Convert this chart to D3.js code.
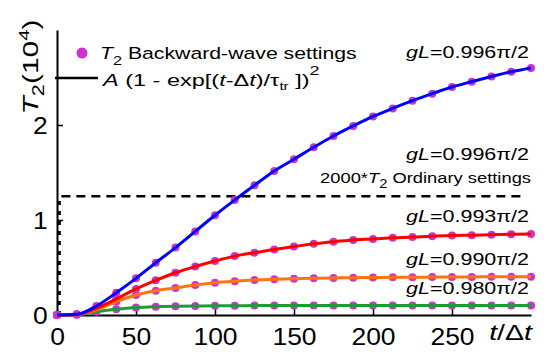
<!DOCTYPE html>
<html>
<head>
<meta charset="utf-8">
<script src="https://cdn.jsdelivr.net/npm/d3@7"></script>
<style>
  body { margin: 0; background: #fff; }
  text { font-family: "Liberation Sans", Arial, sans-serif; fill: #000; }
</style>
</head>
<body>
<svg id="chart"></svg>
<script>
var width = 550;
var height = 361;

// time steps t/Δt
var tSteps = d3.range(0, 301, 12.5);

// T2 (10^4) for each gL setting
var blue996 = [0, 0.007, 0.095, 0.235, 0.386, 0.55, 0.71, 0.88, 1.05, 1.21, 1.365, 1.516, 1.64,
  1.765, 1.884, 1.99, 2.09, 2.175, 2.256, 2.33, 2.40, 2.456, 2.51, 2.56, 2.60];
var red993 = [0, 0.006, 0.07, 0.168, 0.275, 0.365, 0.445, 0.51, 0.568, 0.62, 0.656, 0.69, 0.72,
  0.75, 0.772, 0.79, 0.80, 0.812, 0.82, 0.83, 0.836, 0.84, 0.845, 0.85, 0.853];
var orange990 = [0, 0.005, 0.055, 0.14, 0.21, 0.255, 0.285, 0.315, 0.34, 0.356, 0.368, 0.376, 0.382,
  0.387, 0.39, 0.393, 0.395, 0.397, 0.398, 0.399, 0.40, 0.401, 0.402, 0.402, 0.403];
var green980 = [0, 0.004, 0.035, 0.06, 0.078, 0.087, 0.092, 0.095, 0.097, 0.098, 0.099, 0.1, 0.1,
  0.1, 0.1, 0.1, 0.1, 0.1, 0.1, 0.1, 0.1, 0.1, 0.1, 0.1, 0.1];

// 2000*T2 ordinary settings: jumps up at the start then stays flat
var ordinaryT = [1.5, 1.5, 297];
var ordinaryV = [0, 1.25, 1.25];

var xTicks = [0, 50, 100, 150, 200, 250];
var yTicks = [0, 1, 2];

var series = [
  { name: "0.980", values: green980, color: "#1f9a3a" },
  { name: "0.990", values: orange990, color: "#ff7410" },
  { name: "0.993", values: red993, color: "#ff0000" },
  { name: "0.996", values: blue996, color: "#0000ff" }
];

var svg = d3.select("#chart")
  .attr("width", width)
  .attr("height", height);

var xScale = d3.scaleLinear().domain([0, 300]).range([57, 531]);
var yScale = d3.scaleLinear().domain([0, 3]).range([315, 30]);

// the source figure's lettering is a bit wider than Liberation Sans, so stretch it
function stretch(sel, x, y, targetW) {
  var w = sel.node().getBBox().width;
  sel.attr("transform", "translate(" + x + "," + y + ") scale(" + (targetW / w) + ",1)");
}

// axes
var xAxis = svg.append("g")
  .attr("transform", "translate(0," + yScale(0) + ")")
  .call(d3.axisBottom(xScale).tickValues(xTicks).tickSizeInner(-6).tickSizeOuter(0).tickPadding(10));
var yAxis = svg.append("g")
  .attr("transform", "translate(" + xScale(0) + ",0)")
  .call(d3.axisLeft(yScale).tickValues(yTicks).tickFormat(d3.format("d"))
    .tickSizeInner(-6).tickSizeOuter(0).tickPadding(8));

[xAxis, yAxis].forEach(function(g) {
  g.select(".domain").attr("stroke", "#000").attr("stroke-width", 2);
  g.selectAll(".tick line").attr("stroke", "#000").attr("stroke-width", 1.5);
  g.selectAll(".tick text")
    .attr("font-family", "'Liberation Sans', Arial, sans-serif")
    .attr("font-size", 23)
    .attr("fill", "#000")
    .attr("transform", "scale(1.15,1)");
});
xAxis.selectAll(".tick text").attr("dy", "0.88em");
yAxis.selectAll(".tick text").attr("dy", "0.36em");

// ordinary settings dashed line (vertical jump, then flat)
svg.append("line")
  .attr("x1", xScale(ordinaryT[0])).attr("x2", xScale(ordinaryT[1]))
  .attr("y1", yScale(ordinaryV[0])).attr("y2", yScale(ordinaryV[1]))
  .attr("stroke", "#000").attr("stroke-width", 3)
  .attr("stroke-dasharray", "4,6");
svg.append("line")
  .attr("x1", xScale(ordinaryT[1]) + 2).attr("x2", xScale(ordinaryT[2]))
  .attr("y1", yScale(ordinaryV[1])).attr("y2", yScale(ordinaryV[2]))
  .attr("stroke", "#000").attr("stroke-width", 2.5)
  .attr("stroke-dasharray", "9,6");

// points
series.forEach(function(s) {
  svg.append("g").selectAll("circle")
    .data(s.values)
    .enter()
    .append("circle")
    .attr("cx", function(d, i) { return xScale(tSteps[i]); })
    .attr("cy", function(d) { return yScale(d); })
    .attr("r", 4)
    .attr("fill", "#cc33cc");
});

// fitted curves
var line = d3.line()
  .curve(d3.curveMonotoneX)
  .x(function(d, i) { return xScale(tSteps[i]); })
  .y(function(d) { return yScale(d); });

series.forEach(function(s) {
  svg.append("path")
    .datum(s.values)
    .attr("fill", "none")
    .attr("stroke", s.color)
    .attr("stroke-width", 3)
    .attr("d", line);
});

// curve labels
function gLLabel(y, val) {
  var t = svg.append("text")
    .attr("text-anchor", "end")
    .attr("font-size", 17);
  t.append("tspan").attr("font-style", "italic").text("gL");
  t.append("tspan").text("=" + val + "\u03c0/2");
  stretch(t, 529, y, 123);
}
gLLabel(58, "0.996");
gLLabel(160, "0.996");
gLLabel(222, "0.993");
gLLabel(265, "0.990");
gLLabel(294, "0.980");

var ord = svg.append("text")
  .attr("text-anchor", "end")
  .attr("font-size", 15);
ord.append("tspan").text("2000*");
ord.append("tspan").attr("font-style", "italic").text("T");
ord.append("tspan").attr("font-size", 12).attr("dy", 5).text("2");
ord.append("tspan").attr("dy", -5).text(" Ordinary settings");
stretch(ord, 531, 183, 211);

// x label
var xl = svg.append("text")
  .attr("text-anchor", "end")
  .attr("font-size", 22);
xl.append("tspan").attr("font-style", "italic").text("t");
xl.append("tspan").text("/\u0394");
xl.append("tspan").attr("font-style", "italic").text("t");
stretch(xl, 532, 340, 44);

// y label
var yl = svg.append("text")
  .attr("text-anchor", "middle")
  .attr("font-size", 22);
yl.append("tspan").attr("font-style", "italic").text("T");
yl.append("tspan").attr("font-size", 16).attr("dy", 6).text("2");
yl.append("tspan").attr("dy", -6).text("(10");
yl.append("tspan").attr("font-size", 15).attr("dy", -9).text("4");
yl.append("tspan").attr("dy", 9).text(")");
var ylw = yl.node().getBBox().width;
yl.attr("transform", "translate(38,67) rotate(-90) scale(" + (95 / ylw) + ",1)");

// legend
svg.append("circle")
  .attr("cx", 82).attr("cy", 53).attr("r", 5.5)
  .attr("fill", "#cc33cc");
var lg1 = svg.append("text")
  .attr("font-size", 17);
lg1.append("tspan").attr("font-style", "italic").text("T");
lg1.append("tspan").attr("font-size", 13).attr("dy", 6).text("2");
lg1.append("tspan").attr("dy", -6).text(" Backward-wave settings");
stretch(lg1, 100, 59, 257);

svg.append("line")
  .attr("x1", 55).attr("x2", 98)
  .attr("y1", 78).attr("y2", 78)
  .attr("stroke", "#000").attr("stroke-width", 2.5);
var lg2 = svg.append("text")
  .attr("font-size", 17);
lg2.append("tspan").attr("font-style", "italic").text("A");
lg2.append("tspan").text(" (1 - exp[(");
lg2.append("tspan").attr("font-style", "italic").text("t");
lg2.append("tspan").text("-\u0394");
lg2.append("tspan").attr("font-style", "italic").text("t");
lg2.append("tspan").text(")/\u03c4");
lg2.append("tspan").attr("font-size", 11).attr("dy", 4).text("tr");
lg2.append("tspan").attr("dy", -4).text(" ])");
lg2.append("tspan").attr("font-size", 13).attr("dy", -11).text("2");
stretch(lg2, 103, 86, 218);
</script>
</body>
</html>
